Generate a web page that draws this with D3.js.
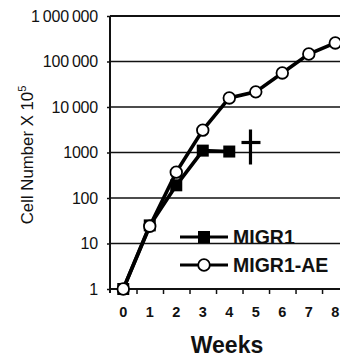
<!DOCTYPE html>
<html><head><meta charset="utf-8">
<script src="https://cdn.jsdelivr.net/npm/d3@7"></script>
<style>body{margin:0;background:#fff}svg{display:block}</style>
</head><body><svg id="c" width="340" height="358"></svg>
<script>
const weeks = [0,1,2,3,4,5,6,7,8];
const migr1Weeks = [0,1,2,3,4];
const migr1 = [1,25,190,1100,1050];
const migr1AE = [1,24,370,3100,15800,21500,56000,146000,256000];
const yTicks = [1,10,100,1000,10000,100000,1000000];
const yTickLabels = ["1","10","100","1000","10\u2009000","100\u2009000","1\u2009000\u2009000"];
const xTickMarks = [0.5,1.5,2.5,3.5,4.5,5.5,6.5,7.5];
const dagger = {week:4.8, value:1000};

const svg = d3.select("#c");
const x = d3.scaleLinear().domain([-0.5,8]).range([110,335.3]);
const y = d3.scaleLog().domain([1,1e6]).range([289,16]);
const R = 340;

// gridlines
svg.append("g").selectAll("line").data(yTicks).join("line")
  .attr("x1",110).attr("x2",R).attr("y1",d=>y(d)).attr("y2",d=>y(d))
  .attr("stroke","#111").attr("stroke-width",d=>d===1e6?2.2:1.6);

// y axis
const ya = svg.append("g").attr("transform","translate(110,0)")
  .call(d3.axisLeft(y).tickValues(yTicks).tickSize(3).tickPadding(9).tickFormat((d,i)=>yTickLabels[i]));
ya.select(".domain").attr("d","M0,16V293").attr("stroke","#111").attr("stroke-width",2);
ya.selectAll(".tick line").attr("stroke","#111").attr("stroke-width",1.5);
ya.selectAll(".tick text").attr("font-family","Liberation Sans, Arial, sans-serif").attr("font-size","16px").attr("letter-spacing","-0.2px").attr("fill","#111");

// x axis
const xa = svg.append("g").attr("transform","translate(0,289)")
  .call(d3.axisBottom(x).tickValues(xTickMarks).tickSize(5).tickFormat(""));
xa.select(".domain").attr("d","M110,0H"+R).attr("stroke","#111").attr("stroke-width",2);
xa.selectAll(".tick line").attr("stroke","#111").attr("stroke-width",1.5);
svg.append("g").selectAll("text").data(weeks).join("text")
  .attr("x",d=>x(d)).attr("y",317).attr("text-anchor","middle")
  .attr("font-family","Liberation Sans, Arial, sans-serif").attr("font-weight","bold").attr("font-size","14.5px").attr("fill","#111")
  .text(d=>d);

// axis titles
svg.append("text").attr("x",227).attr("y",353).attr("text-anchor","middle")
  .attr("font-family","Liberation Sans, Arial, sans-serif").attr("font-weight","bold").attr("font-size","23px").attr("fill","#111")
  .text("Weeks");
const yt = svg.append("text").attr("transform","translate(33,155) rotate(-90)").attr("text-anchor","middle")
  .attr("font-family","Liberation Sans, Arial, sans-serif").attr("font-size","16.8px").attr("fill","#111");
yt.append("tspan").text("Cell Number X 10");
yt.append("tspan").attr("dy","-7").attr("font-size","11px").text("5");

// lines
const line = d3.line().x(d=>x(d[0])).y(d=>y(d[1]));
const d1 = migr1Weeks.map((w,i)=>[w,migr1[i]]);
const d2 = weeks.map((w,i)=>[w,migr1AE[i]]);
svg.append("path").attr("d",line(d1)).attr("fill","none").attr("stroke","#000").attr("stroke-width",3.6);
svg.append("path").attr("d",line(d2)).attr("fill","none").attr("stroke","#000").attr("stroke-width",3.6);

// markers
svg.append("g").selectAll("rect").data(d1).join("rect")
  .attr("x",d=>x(d[0])-6).attr("y",d=>y(d[1])-6).attr("width",12).attr("height",12).attr("fill","#000");
svg.append("g").selectAll("circle").data(d2).join("circle")
  .attr("cx",d=>x(d[0])).attr("cy",d=>y(d[1])).attr("r",5.8)
  .attr("fill","#fff").attr("stroke","#000").attr("stroke-width",1.8);

// dagger
const dx = x(dagger.week), dy = y(dagger.value);
svg.append("line").attr("x1",dx).attr("x2",dx).attr("y1",dy-23).attr("y2",dy+12).attr("stroke","#000").attr("stroke-width",3.2);
svg.append("line").attr("x1",dx-9).attr("x2",dx+10).attr("y1",dy-10).attr("y2",dy-10).attr("stroke","#000").attr("stroke-width",3.2);

// legend
const legend = [{name:"MIGR1",type:"square",y:237},{name:"MIGR1-AE",type:"circle",y:265}];
const lg = svg.append("g").selectAll("g").data(legend).join("g");
lg.append("line").attr("x1",180).attr("x2",228).attr("y1",d=>d.y).attr("y2",d=>d.y).attr("stroke","#000").attr("stroke-width",3);
lg.filter(d=>d.type==="square").append("rect").attr("x",198).attr("y",d=>d.y-6).attr("width",12).attr("height",12).attr("fill","#000");
lg.filter(d=>d.type==="circle").append("circle").attr("cx",204).attr("cy",d=>d.y).attr("r",5.8).attr("fill","#fff").attr("stroke","#000").attr("stroke-width",1.8);
lg.append("text").attr("x",233).attr("y",d=>d.y+7).attr("font-family","Liberation Sans, Arial, sans-serif").attr("font-weight","bold").attr("font-size","19.5px").attr("fill","#111").text(d=>d.name);
</script></body></html>
